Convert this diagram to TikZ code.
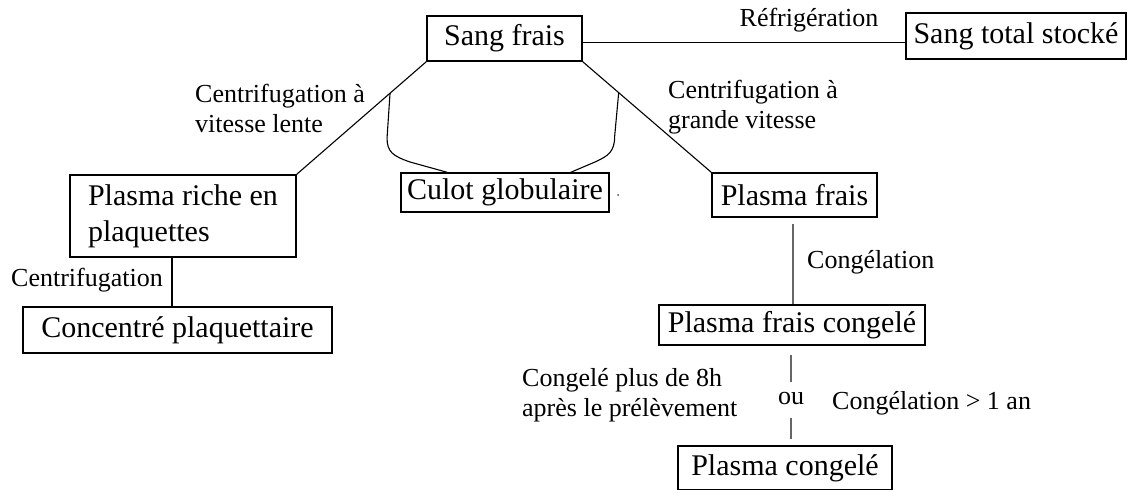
\documentclass[tikz,border=0pt]{standalone}
\usepackage{fontspec}
\setmainfont{Liberation Serif}
\usetikzlibrary{calc}
\begin{document}
\begin{tikzpicture}[x=1pt,y=-1pt,
  box/.style={draw=black,line width=1.3pt,inner sep=0pt,font=\fontsize{30}{36}\selectfont,align=left},
  lbl/.style={inner sep=0pt,font=\fontsize{26}{30}\selectfont,align=left},
  conn/.style={draw=black,line width=1.1pt},
  gconn/.style={draw=black!60,line width=2.4pt}]
\useasboundingbox (0,0) rectangle (1128,490);
% boxes
\node[box,minimum width=155pt,minimum height=45pt] (sf) at (504.5,38.5) {Sang frais};
\node[box,minimum width=220pt,minimum height=46pt] (sts) at (1016,36) {Sang total stocké};
\node[box,minimum width=226pt,minimum height=82pt] (pr) at (183,216) {Plasma riche en\\plaquettes};
\node[box,minimum width=208pt,minimum height=39pt] (cg) at (505,192.5) {Culot globulaire};
\node[box,minimum width=165pt,minimum height=44pt] (pf) at (794.5,195) {Plasma frais};
\node[box,minimum width=309pt,minimum height=46pt] (cp) at (177.5,330) {Concentré plaquettaire};
\node[box,minimum width=266pt,minimum height=40pt] (pfc) at (792,325) {Plasma frais congelé};
\node[box,minimum width=214pt,minimum height=44pt] (pc) at (785,468) {Plasma congelé};
% labels
\node[lbl] (lref) at (809,20) {Réfrigération};
\node[lbl,anchor=west] (llente) at (195,108) {Centrifugation à\\vitesse lente};
\node[lbl,anchor=west] (lgrande) at (668,107.5) {Centrifugation à\\grande vitesse};
\node[lbl] (lcent) at (87,280) {Centrifugation};
\node[lbl,anchor=west] (lcong) at (807,262) {Congélation};
\node[lbl,anchor=west] (l8h) at (522,395) {Congelé plus de 8h\\après le prélèvement};
\node[lbl] (ou) at (791,398) {ou};
\node[lbl,anchor=west] (lan) at (832,403) {Congélation > 1 an};
% connectors
\draw[conn] ([yshift=-4pt]sf.east) -- ([yshift=-4pt]sf.east -| sts.west);
\draw[conn] (sf.south west) -- (pr.north east);
\draw[conn] (sf.south east) -- (pf.north west);
\coordinate (bl) at ($(sf.south west)!0.28!(pr.north east)$);
\coordinate (br) at ($(sf.south east)!0.28!(pf.north west)$);
\draw[conn] (bl) -- ([xshift=-3pt]bl |- 0,138) .. controls ([xshift=-3pt]bl |- 0,152) and (393,156) .. (410,162) -- ([xshift=47pt]cg.north west);
\draw[conn] (br) -- ([xshift=-4pt]br |- 0,136) .. controls ([xshift=-4pt]br |- 0,152) and (608,156) .. (595,162) -- ([xshift=-39pt]cg.north east);
\draw[conn] ([xshift=-11pt]pr.south) -- ([xshift=-11pt]pr.south |- cp.north);
\draw[gconn] ([yshift=-6pt,xshift=-1.5pt]pf.south) -- ([xshift=-1.5pt]pf.south |- pfc.north);
\draw[gconn] ([yshift=-9pt]pfc.south -| ou) -- ($(ou.center)+(0,-16)$);
\draw[gconn] ($(ou.center)+(0,20)$) -- ([yshift=6pt]pc.north -| ou);
\fill[black!70] (618,195) circle (1pt);
\end{tikzpicture}
\end{document}
